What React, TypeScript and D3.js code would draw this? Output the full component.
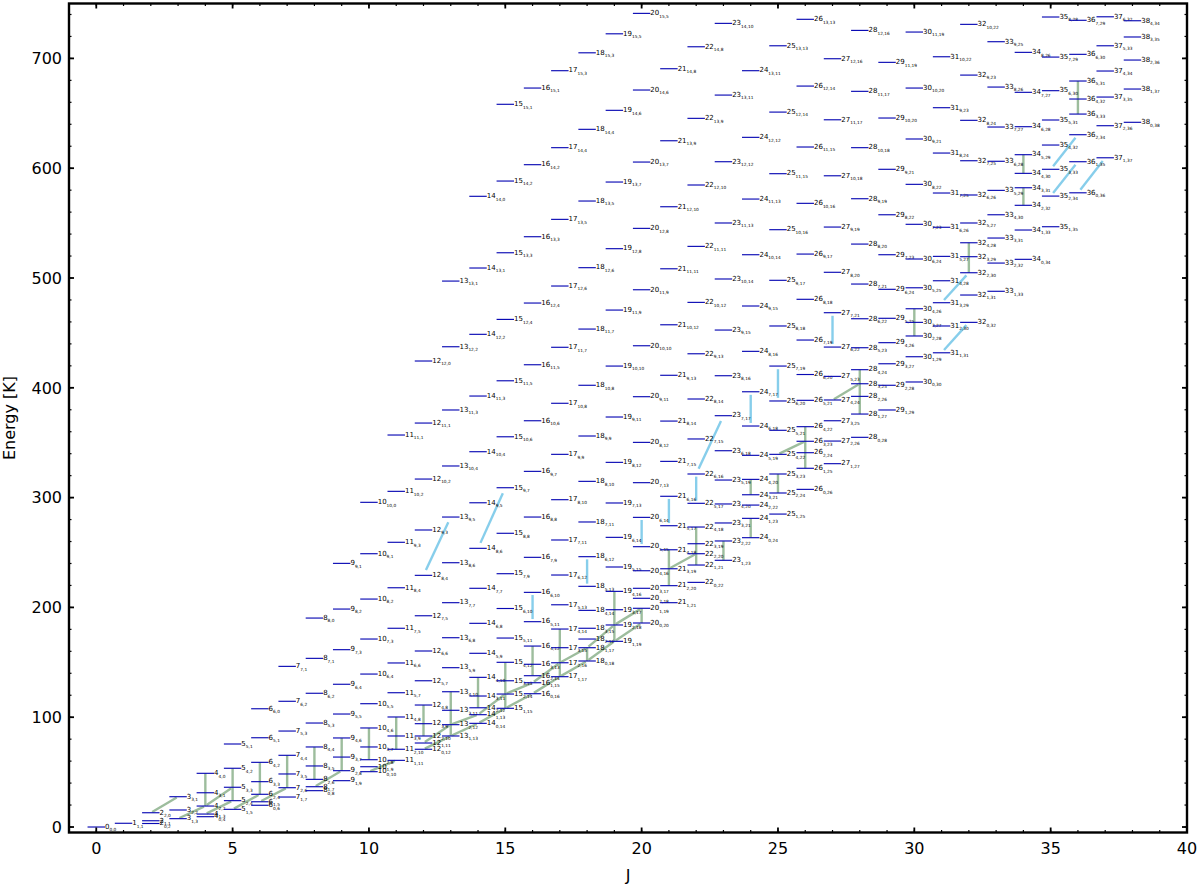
import React from "react";
import * as d3 from "d3";

// Energy [K] of the levels of each J, listed from the highest Ka downwards.
const topKa = [0,1,2,3,4,5,6,7,8,9,10,11,12,13,14,15,15,15,15,15,15,14,14,14,13,13,13,12,12,11,11,10,10,9,8,8,7,6,4];
const energiesLowJ = [
  [0],
  [3.4],
  [13.0,5.7,3.2],
  [27.6,15.5,7.6],
  [48.9,31.2,19.1,11.8,9.4],
  [75.6,53.5,36.2,24.0,16.1],
  [107.7,81.3,58.9,41.3,29.8,23.0,19.8],
  [146.3,114.5,87.4,65.3,48.3,35.8,27.3],
  [190.3,153.6,121.8,94.7,72.9,55.6,43.4,36.7,33.1],
  [240.1,198.5,161.5,130.0,102.9,81.1,63.7,51.3,42.2],
  [295.7,248.9,207.6,171.2,139.3,112.3,90.2,72.9,61.3,54.9,50.4],
  [357.0,305.7,259.3,217.9,181.0,149.4,122.3,100.2,82.9,70.8,60.7],
  [424.4,367.9,316.9,270.5,229.2,192.4,160.3,133.2,111.1,94.1,82.9,76.5,70.8],
];
const energiesMidJ = [
  [497.2,437.4,379.8,328.8,282.3,240.7,204.3,172.4,145.1,123.2,106.3,93.2,82.9],
  [574.4,509.1,448.7,392.5,341.8,295.3,253.8,217.4,185.5,158.2,136.3,119.3,108.6,102.3,94.4],
  [658.2,588.3,523.0,462.3,406.4,355.4,309.0,267.5,230.7,199.0,172.1,150.0,133.2,121.1,108.1],
  [673.0,603.2,537.6,477.2,421.0,370.0,323.9,282.3,245.6,213.7,187.0,164.8,148.2,137.8,131.4,121.4],
  [688.8,618.7,553.4,492.7,436.9,385.9,339.4,298.1,261.4,229.5,202.4,180.3,163.3,149.6,136.9],
  [705.1,635.4,570.1,509.4,453.5,402.3,356.1,314.8,277.8,246.2,219.2,197.3,181.0,171.2,163.3,151.2],
  [722.4,652.7,587.4,526.7,470.8,419.8,373.4,332.1,295.1,263.8,236.8,214.6,197.9,184.0,169.1],
  [741.0,671.2,605.6,545.2,489.3,438.3,391.9,350.3,313.6,282.0,255.3,233.4,217.4,208.3,199.2,185.8],
  [690.6,625.0,564.9,508.4,457.4,411.4,369.7,333.0,301.2,274.4,252.5,235.2,219.8,204.3],
  [710.6,645.4,584.7,528.8,477.8,431.0,389.8,353.4,321.5,294.8,273.2,258.0,248.9,238.6,222.8],
  [731.9,666.6,605.9,550.1,499.1,452.6,411.0,374.6,342.7,316.0,294.2,276.9,260.5,242.9],
  [688.8,628.1,571.9,521.2,474.5,433.2,396.4,365.2,338.5,316.6,302.6,293.2,281.1,263.5],
  [711.5,651.1,595.0,544.0,497.9,456.3,419.8,388.0,361.3,339.4,321.5,304.2,285.0],
];
const energiesHighJ = [
  [735.6,674.8,619.3,568.0,521.8,480.6,443.5,412.1,388.6,364.6,351.3,340.9,326.7,307.5],
  [699.7,644.1,593.1,546.4,505.2,468.4,437.1,410.4,388.9,370.0,351.5,330.9],
  [725.5,670.0,618.7,572.2,530.9,494.5,462.9,436.5,416.5,403.7,392.2,376.1,354.9],
  [696.4,645.7,599.0,557.6,521.2,489.7,463.3,441.1,421.9,402.3,379.8],
  [724.0,673.0,626.6,585.3,548.9,517.3,491.1,472.0,459.6,447.2,428.3,405.3],
  [701.5,655.1,613.8,577.4,546.2,519.7,497.5,477.5,456.3,431.9],
  [731.0,684.8,643.6,606.8,575.6,550.1,532.1,519.4,504.8,484.5,459.6],
  [715.2,673.9,637.5,606.3,579.8,557.6,536.4,513.6,487.9],
  [705.5,669.1,637.8,612.3,595.3,582.2,566.2,543.7,517.0],
  [737.7,701.2,670.6,643.9,621.1,599.0,574.6,546.7],
  [734.7,703.7,679.4,663.0,649.3,630.5,605.9,577.6],
  [737.9,711.5,688.5,664.8,638.7,609.5],
  [734.3,719.5,698.5,672.1,641.8],
];
// Transitions between levels: [J, Ka, J', Ka']
const greenTransitions = [
  [4,4,4,2],[5,4,5,2],[6,4,6,2],[7,4,7,2],[8,4,8,2],[9,4,9,2],[10,4,10,2],[11,4,11,2],[12,4,12,2],
  [13,4,13,1],[14,4,14,2],[15,4,15,1],[16,4,16,2],[17,4,17,1],[18,1,18,0],[19,4,19,1],[20,1,20,0],
  [21,4,21,2],[22,4,22,1],[23,2,23,1],[24,1,24,0],[24,4,24,3],[25,3,25,2],[26,4,26,1],[28,4,28,1],
  [30,4,30,2],[32,4,32,2],[34,5,34,4],[34,3,34,2],[36,5,36,3],
  [2,2,3,3],[3,1,4,2],[4,2,5,3],[4,1,5,2],[5,1,6,2],[6,1,7,2],[8,1,9,2],[10,0,11,1],
  [12,1,13,2],[12,0,13,1],[13,2,14,1],[13,1,14,0],[14,1,15,2],[14,0,15,1],[15,2,16,1],[15,1,16,0],
  [16,1,17,2],[16,0,17,1],[17,2,18,1],[17,1,18,0],[18,1,19,2],[18,0,19,1],[19,2,20,1],[19,1,20,0],
  [21,3,22,2],[25,4,26,3],[27,4,28,3],
];
const blueTransitions = [
  [12,8,13,9],[14,8,15,9],[16,6,16,5],[18,6,18,5],[20,6,20,5],[21,6,21,5],[22,6,22,5],[22,6,23,7],
  [24,7,24,6],[25,7,25,6],[27,7,27,6],[31,1,32,0],[31,3,32,2],[35,3,36,2],[35,2,36,1],[36,0,37,1],
];
const xMajorTicks = [0,5,10,15,20,25,30,35,40];
const yMajorTicks = [0,100,200,300,400,500,600,700];
const xLabel = "J";
const yLabel = "Energy [K]";

const energiesByJ = [...energiesLowJ, ...energiesMidJ, ...energiesHighJ];

export default function App() {
  const x = d3.scaleLinear().domain([-1, 40]).range([69, 1187]);
  const y = d3.scaleLinear().domain([-5, 750]).range([832.5, 3.5]);
  const font = "'DejaVu Sans', sans-serif";
  const halfBar = 0.32;

  const energyOf = (J: number, Ka: number) => energiesByJ[J][topKa[J] - Ka];
  const levels = energiesByJ.flatMap((es, J) =>
    es.map((E, i) => {
      const Ka = topKa[J] - i;
      const Kc = (J % 2 === 0 ? J : J + 1) - Ka;
      return { J, Ka, Kc, E };
    })
  );

  const link = (t: number[], shrink: number) => {
    const x0 = x(t[0]), y0 = y(energyOf(t[0], t[1]));
    const x1 = x(t[2]), y1 = y(energyOf(t[2], t[3]));
    const ix = d3.interpolateNumber(x0, x1), iy = d3.interpolateNumber(y0, y1);
    return { x1: ix(shrink), y1: iy(shrink), x2: ix(1 - shrink), y2: iy(1 - shrink) };
  };

  const xMinor = d3.range(0, 41);
  const yMinor = d3.range(0, 741, 20);
  const [L, R] = x.range();
  const [B, T] = y.range();

  return (
    <svg width={1200} height={888} style={{ position: "absolute", left: 0, top: 0, background: "#fff" }} fontFamily={font}>
      <g fill="none">
        {blueTransitions.map((t, i) => (
          <line key={i} {...link(t, 0.09)} stroke="#87ceeb" strokeWidth={2.4} />
        ))}
        {greenTransitions.map((t, i) => (
          <line key={i} {...link(t, t[0] === t[2] ? 0 : 0.05)} stroke="#9dbd9d" strokeWidth={2.4} />
        ))}
      </g>
      <g>
        {levels.map((l, i) => (
          <g key={i}>
            <line x1={x(l.J - halfBar)} x2={x(l.J + halfBar)} y1={y(l.E)} y2={y(l.E)} stroke="#0a0ab4" strokeWidth={1.15} />
            <text x={x(l.J + halfBar)} y={y(l.E) + 1.8} fontSize={7} fill="#000">
              {l.J}
              <tspan fontSize={4.3} dy={2.6}>{`${l.Ka},${l.Kc}`}</tspan>
            </text>
          </g>
        ))}
      </g>
      <g stroke="#000">
        {xMinor.map((v) => (
          <g key={v} strokeWidth={1.2}>
            <line x1={x(v)} x2={x(v)} y1={B} y2={B - 2.5} />
            <line x1={x(v)} x2={x(v)} y1={T} y2={T + 2.5} />
          </g>
        ))}
        {yMinor.map((v) => (
          <g key={v} strokeWidth={1.2}>
            <line x1={L} x2={L + 2.5} y1={y(v)} y2={y(v)} />
            <line x1={R} x2={R - 2.5} y1={y(v)} y2={y(v)} />
          </g>
        ))}
        {xMajorTicks.map((v) => (
          <g key={v} strokeWidth={1.8}>
            <line x1={x(v)} x2={x(v)} y1={B} y2={B - 5} />
            <line x1={x(v)} x2={x(v)} y1={T} y2={T + 5} />
          </g>
        ))}
        {yMajorTicks.map((v) => (
          <g key={v} strokeWidth={1.8}>
            <line x1={L} x2={L + 5} y1={y(v)} y2={y(v)} />
            <line x1={R} x2={R - 5} y1={y(v)} y2={y(v)} />
          </g>
        ))}
        <rect x={L} y={T} width={R - L} height={B - T} fill="none" strokeWidth={2.4} />
      </g>
      <g fontSize={16} fill="#000">
        {xMajorTicks.map((v) => (
          <text key={v} x={x(v)} y={854} textAnchor="middle">{v}</text>
        ))}
        {yMajorTicks.map((v) => (
          <text key={v} x={62} y={y(v) + 5.8} textAnchor="end">{v}</text>
        ))}
        <text x={628} y={881} textAnchor="middle">{xLabel}</text>
        <text transform={`translate(15,418) rotate(-90)`} textAnchor="middle">{yLabel}</text>
      </g>
    </svg>
  );
}
